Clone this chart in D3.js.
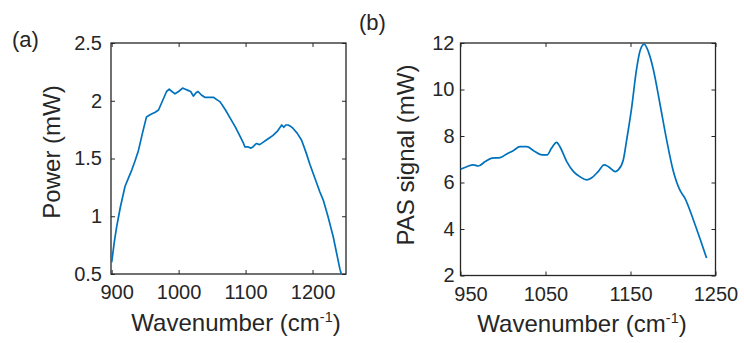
<!DOCTYPE html>
<html><head><meta charset="utf-8">
<script src="https://cdn.jsdelivr.net/npm/d3@7"></script>
<style>
body{margin:0;background:#fff}
text{font-family:"Liberation Sans",Arial,sans-serif;fill:#262626}
</style>
</head><body>
<svg id="c" width="744" height="343"></svg>
<script>
// Panel (a): laser power
const powerWavenumber = [900,904,907.5,913,920,925,930,935,940,946,952,958,965,970,976,982,986,990,994.5,1000,1006,1010,1014,1018,1022,1026,1029,1034,1039,1045,1052,1057,1062,1070,1077,1085,1092,1097,1099,1104,1108,1111,1116,1121,1126,1131,1136,1141,1148,1154,1157,1160,1163.5,1167,1171,1177,1183.5,1188,1191,1196,1201,1206,1211,1216,1220,1223,1227,1231,1236,1241,1243];
const powerValues = [0.60,0.78,0.91,1.08,1.26,1.33,1.40,1.48,1.57,1.72,1.86,1.88,1.90,1.92,2.00,2.08,2.10,2.08,2.06,2.08,2.11,2.10,2.09,2.08,2.04,2.07,2.08,2.05,2.03,2.03,2.03,2.01,1.99,1.92,1.85,1.77,1.69,1.63,1.60,1.60,1.59,1.60,1.63,1.62,1.64,1.66,1.68,1.70,1.74,1.79,1.77,1.79,1.79,1.78,1.76,1.72,1.66,1.59,1.54,1.45,1.37,1.29,1.21,1.14,1.06,1.00,0.91,0.82,0.68,0.54,0.50];
const powerXTicks = [900,1000,1100,1200];
const powerYTicks = [0.5,1,1.5,2,2.5];

// Panel (b): PAS signal
const pasWavenumber = [950,957.5,965,971,979,987,996.5,1004.5,1012,1020,1028,1036,1045.5,1052,1057,1063,1067,1075,1083,1090.5,1098.5,1104,1112,1119,1124,1132,1135.5,1141.5,1145.5,1151,1157,1161,1166,1171,1177,1184.5,1192.5,1200,1208,1214,1224,1231.5,1239.5];
const pasValues = [6.57,6.68,6.76,6.71,6.90,7.05,7.07,7.23,7.37,7.54,7.54,7.37,7.19,7.19,7.47,7.73,7.54,6.90,6.47,6.25,6.11,6.19,6.47,6.76,6.68,6.47,6.54,6.97,7.83,9.12,10.84,11.63,11.95,11.63,10.84,9.41,7.83,6.54,5.68,5.33,4.39,3.61,2.75];
const pasXTicks = [950,1050,1150,1250];
const pasYTicks = [2,4,6,8,10,12];

const svg = d3.select("#c");
const LINE = "#0072BD", AX = "#262626";

function panel(o){
  const x = d3.scaleLinear().domain(o.xDomain).range([o.l, o.r]);
  const y = d3.scaleLinear().domain(o.yDomain).range([o.b, o.t]);
  const g = svg.append("g");
  const bottom = g.append("g").attr("transform",`translate(0,${o.b})`)
    .call(d3.axisBottom(x).tickValues(o.xTicks).tickSizeInner(-4).tickSizeOuter(0).tickPadding(o.xPad).tickFormat(d3.format("d")));
  const left = g.append("g").attr("transform",`translate(${o.l},0)`)
    .call(d3.axisLeft(y).tickValues(o.yTicks).tickSizeInner(-4).tickSizeOuter(0).tickPadding(o.yPad).tickFormat(d=>String(d)));
  const top = g.append("g").attr("transform",`translate(0,${o.t})`)
    .call(d3.axisTop(x).tickValues(o.xTicks).tickSizeInner(-4).tickSizeOuter(0).tickFormat(""));
  const right = g.append("g").attr("transform",`translate(${o.r},0)`)
    .call(d3.axisRight(y).tickValues(o.yTicks).tickSizeInner(-4).tickSizeOuter(0).tickFormat(""));
  [bottom,left,top,right].forEach(a=>{
    a.select(".domain").remove();
    a.selectAll("line").attr("stroke",AX).attr("stroke-width",1);
    a.selectAll("text").attr("font-size",o.tickFont).attr("fill",AX).style("font-family","Liberation Sans, Arial, sans-serif");
  });
  bottom.selectAll(".tick text").filter((d,i)=>i===0).attr("dx",o.firstDx);
  g.append("rect").attr("x",o.l).attr("y",o.t).attr("width",o.r-o.l).attr("height",o.b-o.t)
    .attr("fill","none").attr("stroke",AX).attr("stroke-width",1.3);
  const data = o.xs.map((v,i)=>[v,o.ys[i]]);
  g.append("path").datum(data)
    .attr("d", d3.line().x(d=>x(d[0])).y(d=>y(d[1])).curve(o.curve))
    .attr("fill","none").attr("stroke",LINE).attr("stroke-width",1.7).attr("stroke-linejoin","round");
  const xl = g.append("text").attr("x",o.xLabelX).attr("y",o.xLabelY).attr("text-anchor","middle").attr("font-size",o.labelFont);
  xl.append("tspan").text("Wavenumber (cm");
  xl.append("tspan").attr("font-size",o.labelFont*0.6).attr("dy",-9).text("-1");
  xl.append("tspan").attr("dy",9).text(")");
  g.append("text").attr("transform",`translate(${o.yLabelX},${o.yLabelY}) rotate(-90)`)
    .attr("text-anchor","middle").attr("font-size",o.labelFont).text(o.yLabel);
  g.append("text").attr("x",o.tagX).attr("y",o.tagY).attr("font-size",o.tagFont).text(o.tag);
}

panel({l:111,r:346,t:43,b:274,xDomain:[899,1250],yDomain:[0.5,2.5],
  xTicks:powerXTicks,yTicks:powerYTicks,xs:powerWavenumber,ys:powerValues,
  xPad:11,yPad:9,tickFont:20,labelFont:24,tagFont:22,firstDx:5,curve:d3.curveLinear,
  xLabelX:236,xLabelY:331,yLabelX:60,yLabelY:152,yLabel:"Power (mW)",tag:"(a)",tagX:12,tagY:47});

panel({l:460.5,r:715.5,t:43,b:275.5,xDomain:[950,1250],yDomain:[2,12],
  xTicks:pasXTicks,yTicks:pasYTicks,xs:pasWavenumber,ys:pasValues,
  xPad:11,yPad:6,tickFont:20,labelFont:24,tagFont:22,firstDx:10,curve:d3.curveMonotoneX,
  xLabelX:582,xLabelY:332,yLabelX:414,yLabelY:155,yLabel:"PAS signal (mW)",tag:"(b)",tagX:359,tagY:30});
</script>
</body></html>
